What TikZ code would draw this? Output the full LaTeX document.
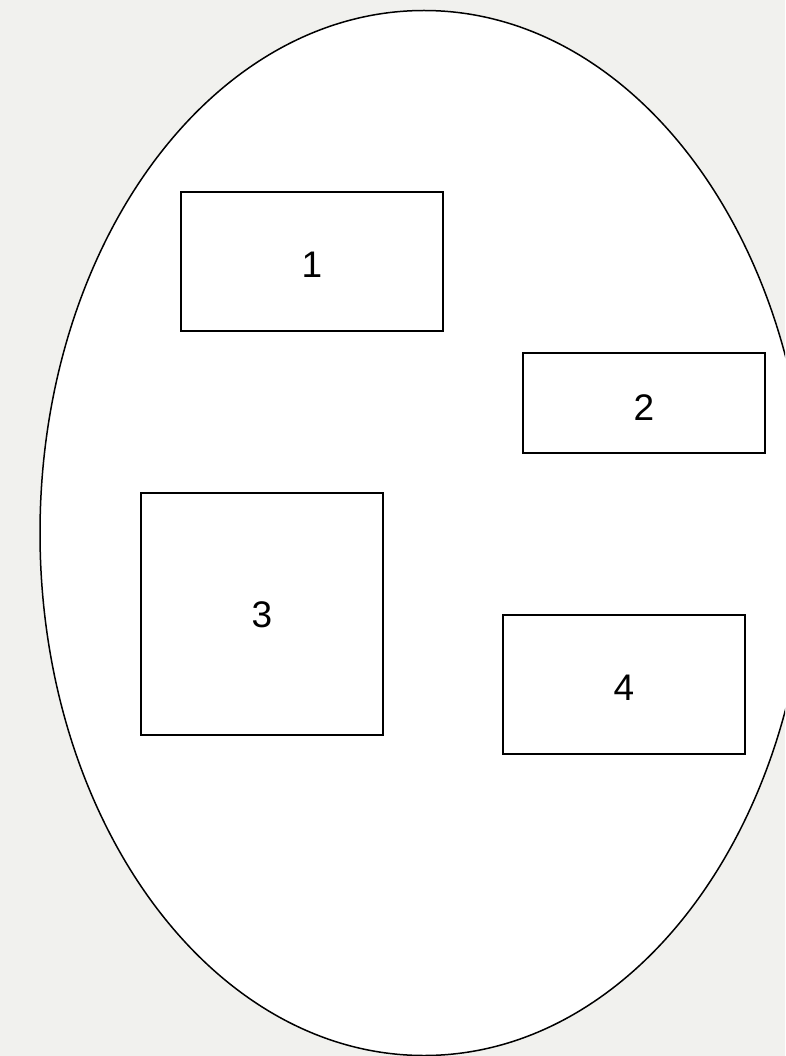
\documentclass[tikz,border=0pt]{standalone}
\usepackage{fontspec}
\usetikzlibrary{shapes.geometric}
\setmainfont{Liberation Sans}
\definecolor{bg}{HTML}{F1F1EE}
\begin{document}
\begin{tikzpicture}[x=1pt,y=-1pt,
  box/.style={draw=black,line width=1.4pt,fill=white,inner sep=0pt},
  lbl/.style={font=\fontsize{37}{40}\selectfont}]
\fill[bg] (0,0) rectangle (785,1056);
\useasboundingbox (0,0) rectangle (785,1056);
\begin{scope}
\clip (0,0) rectangle (785,1056);
\node[draw=black,line width=1.5pt,fill=white,ellipse,minimum width=768pt,minimum height=1045pt,inner sep=0pt] (ell) at (424,533) {};
\end{scope}
\draw[box] (181,192) rectangle (443,331);
\draw[box] (523,353) rectangle (765,453);
\draw[box] (141,493) rectangle (383,735);
\draw[box] (503,615) rectangle (745,754);
\node[lbl] (n1) at (312,265) {1};
\node[lbl] (n2) at (644,408) {2};
\node[lbl] (n3) at (262,615) {3};
\node[lbl] (n4) at (624,688) {4};
\end{tikzpicture}
\end{document}
